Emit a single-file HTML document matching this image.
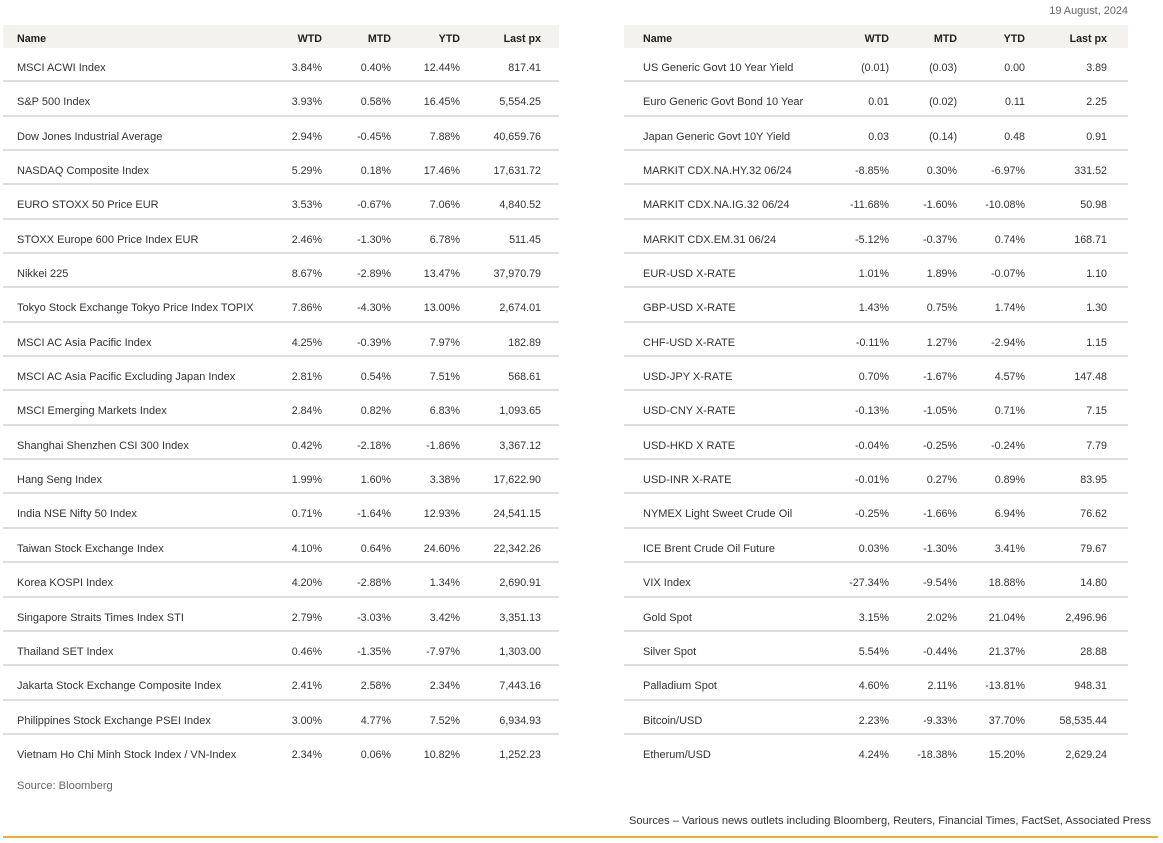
<!DOCTYPE html>
<html>
<head>
<meta charset="utf-8">
<style>
  html,body{margin:0;padding:0;background:#fff;}
  body{width:1163px;height:843px;position:relative;overflow:hidden;
       font-family:"Liberation Sans",Arial,sans-serif;font-size:10.7px;color:#333;}
  .tbl{position:absolute;top:25px;}
  .t1{left:3px;width:556px;}
  .t2{left:624px;width:504px;}
  .hdr{position:relative;height:23px;background:#f3f2ee;font-weight:bold;color:#222;}
  .hdr span,.row span{position:absolute;top:7px;line-height:14px;white-space:nowrap;}
  .row span{top:13px;}
  .row span.n{font-size:11px;}
  .hdr span.n{font-size:10.7px;}
  .row{position:relative;height:34.35px;box-sizing:border-box;border-bottom:2px solid #dedede;}
  .row.last{border-bottom:none;}
  .t1 .n{left:14px;} .t1 .a{right:237px;} .t1 .b{right:168px;} .t1 .c{right:99px;} .t1 .d{right:18px;}
  .t2 .n{left:19px;} .t2 .a{right:239px;} .t2 .b{right:171px;} .t2 .c{right:103px;} .t2 .d{right:21px;}
  .date{position:absolute;right:35px;top:4px;line-height:14px;color:#666;white-space:nowrap;font-size:10.9px;}
  .src{position:absolute;left:17px;top:779px;line-height:14px;color:#666;font-size:11.2px;}
  .srcs{position:absolute;right:12px;top:814px;line-height:14px;color:#333;white-space:nowrap;font-size:11.1px;}
  .orange{position:absolute;left:3px;top:836px;width:1155px;height:2px;background:#ecb031;}
</style>
</head>
<body>
<div class="date">19 August, 2024</div>

<div class="tbl t1">
  <div class="hdr"><span class="n">Name</span><span class="a">WTD</span><span class="b">MTD</span><span class="c">YTD</span><span class="d">Last px</span></div>
  <div class="row"><span class="n">MSCI ACWI Index</span><span class="a">3.84%</span><span class="b">0.40%</span><span class="c">12.44%</span><span class="d">817.41</span></div>
  <div class="row"><span class="n">S&amp;P 500 Index</span><span class="a">3.93%</span><span class="b">0.58%</span><span class="c">16.45%</span><span class="d">5,554.25</span></div>
  <div class="row"><span class="n">Dow Jones Industrial Average</span><span class="a">2.94%</span><span class="b">-0.45%</span><span class="c">7.88%</span><span class="d">40,659.76</span></div>
  <div class="row"><span class="n">NASDAQ Composite Index</span><span class="a">5.29%</span><span class="b">0.18%</span><span class="c">17.46%</span><span class="d">17,631.72</span></div>
  <div class="row"><span class="n">EURO STOXX 50 Price EUR</span><span class="a">3.53%</span><span class="b">-0.67%</span><span class="c">7.06%</span><span class="d">4,840.52</span></div>
  <div class="row"><span class="n">STOXX Europe 600 Price Index EUR</span><span class="a">2.46%</span><span class="b">-1.30%</span><span class="c">6.78%</span><span class="d">511.45</span></div>
  <div class="row"><span class="n">Nikkei 225</span><span class="a">8.67%</span><span class="b">-2.89%</span><span class="c">13.47%</span><span class="d">37,970.79</span></div>
  <div class="row"><span class="n">Tokyo Stock Exchange Tokyo Price Index TOPIX</span><span class="a">7.86%</span><span class="b">-4.30%</span><span class="c">13.00%</span><span class="d">2,674.01</span></div>
  <div class="row"><span class="n">MSCI AC Asia Pacific Index</span><span class="a">4.25%</span><span class="b">-0.39%</span><span class="c">7.97%</span><span class="d">182.89</span></div>
  <div class="row"><span class="n">MSCI AC Asia Pacific Excluding Japan Index</span><span class="a">2.81%</span><span class="b">0.54%</span><span class="c">7.51%</span><span class="d">568.61</span></div>
  <div class="row"><span class="n">MSCI Emerging Markets Index</span><span class="a">2.84%</span><span class="b">0.82%</span><span class="c">6.83%</span><span class="d">1,093.65</span></div>
  <div class="row"><span class="n">Shanghai Shenzhen CSI 300 Index</span><span class="a">0.42%</span><span class="b">-2.18%</span><span class="c">-1.86%</span><span class="d">3,367.12</span></div>
  <div class="row"><span class="n">Hang Seng Index</span><span class="a">1.99%</span><span class="b">1.60%</span><span class="c">3.38%</span><span class="d">17,622.90</span></div>
  <div class="row"><span class="n">India NSE Nifty 50 Index</span><span class="a">0.71%</span><span class="b">-1.64%</span><span class="c">12.93%</span><span class="d">24,541.15</span></div>
  <div class="row"><span class="n">Taiwan Stock Exchange Index</span><span class="a">4.10%</span><span class="b">0.64%</span><span class="c">24.60%</span><span class="d">22,342.26</span></div>
  <div class="row"><span class="n">Korea KOSPI Index</span><span class="a">4.20%</span><span class="b">-2.88%</span><span class="c">1.34%</span><span class="d">2,690.91</span></div>
  <div class="row"><span class="n">Singapore Straits Times Index STI</span><span class="a">2.79%</span><span class="b">-3.03%</span><span class="c">3.42%</span><span class="d">3,351.13</span></div>
  <div class="row"><span class="n">Thailand SET Index</span><span class="a">0.46%</span><span class="b">-1.35%</span><span class="c">-7.97%</span><span class="d">1,303.00</span></div>
  <div class="row"><span class="n">Jakarta Stock Exchange Composite Index</span><span class="a">2.41%</span><span class="b">2.58%</span><span class="c">2.34%</span><span class="d">7,443.16</span></div>
  <div class="row"><span class="n">Philippines Stock Exchange PSEI Index</span><span class="a">3.00%</span><span class="b">4.77%</span><span class="c">7.52%</span><span class="d">6,934.93</span></div>
  <div class="row last"><span class="n">Vietnam Ho Chi Minh Stock Index / VN-Index</span><span class="a">2.34%</span><span class="b">0.06%</span><span class="c">10.82%</span><span class="d">1,252.23</span></div>
</div>

<div class="tbl t2">
  <div class="hdr"><span class="n">Name</span><span class="a">WTD</span><span class="b">MTD</span><span class="c">YTD</span><span class="d">Last px</span></div>
  <div class="row"><span class="n">US Generic Govt 10 Year Yield</span><span class="a">(0.01)</span><span class="b">(0.03)</span><span class="c">0.00</span><span class="d">3.89</span></div>
  <div class="row"><span class="n">Euro Generic Govt Bond 10 Year</span><span class="a">0.01</span><span class="b">(0.02)</span><span class="c">0.11</span><span class="d">2.25</span></div>
  <div class="row"><span class="n">Japan Generic Govt 10Y Yield</span><span class="a">0.03</span><span class="b">(0.14)</span><span class="c">0.48</span><span class="d">0.91</span></div>
  <div class="row"><span class="n">MARKIT CDX.NA.HY.32 06/24</span><span class="a">-8.85%</span><span class="b">0.30%</span><span class="c">-6.97%</span><span class="d">331.52</span></div>
  <div class="row"><span class="n">MARKIT CDX.NA.IG.32 06/24</span><span class="a">-11.68%</span><span class="b">-1.60%</span><span class="c">-10.08%</span><span class="d">50.98</span></div>
  <div class="row"><span class="n">MARKIT CDX.EM.31 06/24</span><span class="a">-5.12%</span><span class="b">-0.37%</span><span class="c">0.74%</span><span class="d">168.71</span></div>
  <div class="row"><span class="n">EUR-USD X-RATE</span><span class="a">1.01%</span><span class="b">1.89%</span><span class="c">-0.07%</span><span class="d">1.10</span></div>
  <div class="row"><span class="n">GBP-USD X-RATE</span><span class="a">1.43%</span><span class="b">0.75%</span><span class="c">1.74%</span><span class="d">1.30</span></div>
  <div class="row"><span class="n">CHF-USD X-RATE</span><span class="a">-0.11%</span><span class="b">1.27%</span><span class="c">-2.94%</span><span class="d">1.15</span></div>
  <div class="row"><span class="n">USD-JPY X-RATE</span><span class="a">0.70%</span><span class="b">-1.67%</span><span class="c">4.57%</span><span class="d">147.48</span></div>
  <div class="row"><span class="n">USD-CNY X-RATE</span><span class="a">-0.13%</span><span class="b">-1.05%</span><span class="c">0.71%</span><span class="d">7.15</span></div>
  <div class="row"><span class="n">USD-HKD X RATE</span><span class="a">-0.04%</span><span class="b">-0.25%</span><span class="c">-0.24%</span><span class="d">7.79</span></div>
  <div class="row"><span class="n">USD-INR X-RATE</span><span class="a">-0.01%</span><span class="b">0.27%</span><span class="c">0.89%</span><span class="d">83.95</span></div>
  <div class="row"><span class="n">NYMEX Light Sweet Crude Oil</span><span class="a">-0.25%</span><span class="b">-1.66%</span><span class="c">6.94%</span><span class="d">76.62</span></div>
  <div class="row"><span class="n">ICE Brent Crude Oil Future</span><span class="a">0.03%</span><span class="b">-1.30%</span><span class="c">3.41%</span><span class="d">79.67</span></div>
  <div class="row"><span class="n">VIX Index</span><span class="a">-27.34%</span><span class="b">-9.54%</span><span class="c">18.88%</span><span class="d">14.80</span></div>
  <div class="row"><span class="n">Gold Spot</span><span class="a">3.15%</span><span class="b">2.02%</span><span class="c">21.04%</span><span class="d">2,496.96</span></div>
  <div class="row"><span class="n">Silver Spot</span><span class="a">5.54%</span><span class="b">-0.44%</span><span class="c">21.37%</span><span class="d">28.88</span></div>
  <div class="row"><span class="n">Palladium Spot</span><span class="a">4.60%</span><span class="b">2.11%</span><span class="c">-13.81%</span><span class="d">948.31</span></div>
  <div class="row"><span class="n">Bitcoin/USD</span><span class="a">2.23%</span><span class="b">-9.33%</span><span class="c">37.70%</span><span class="d">58,535.44</span></div>
  <div class="row last"><span class="n">Etherum/USD</span><span class="a">4.24%</span><span class="b">-18.38%</span><span class="c">15.20%</span><span class="d">2,629.24</span></div>
</div>

<div class="src">Source: Bloomberg</div>
<div class="srcs">Sources – Various news outlets including Bloomberg, Reuters, Financial Times, FactSet, Associated Press</div>
<div class="orange"></div>
</body>
</html>
